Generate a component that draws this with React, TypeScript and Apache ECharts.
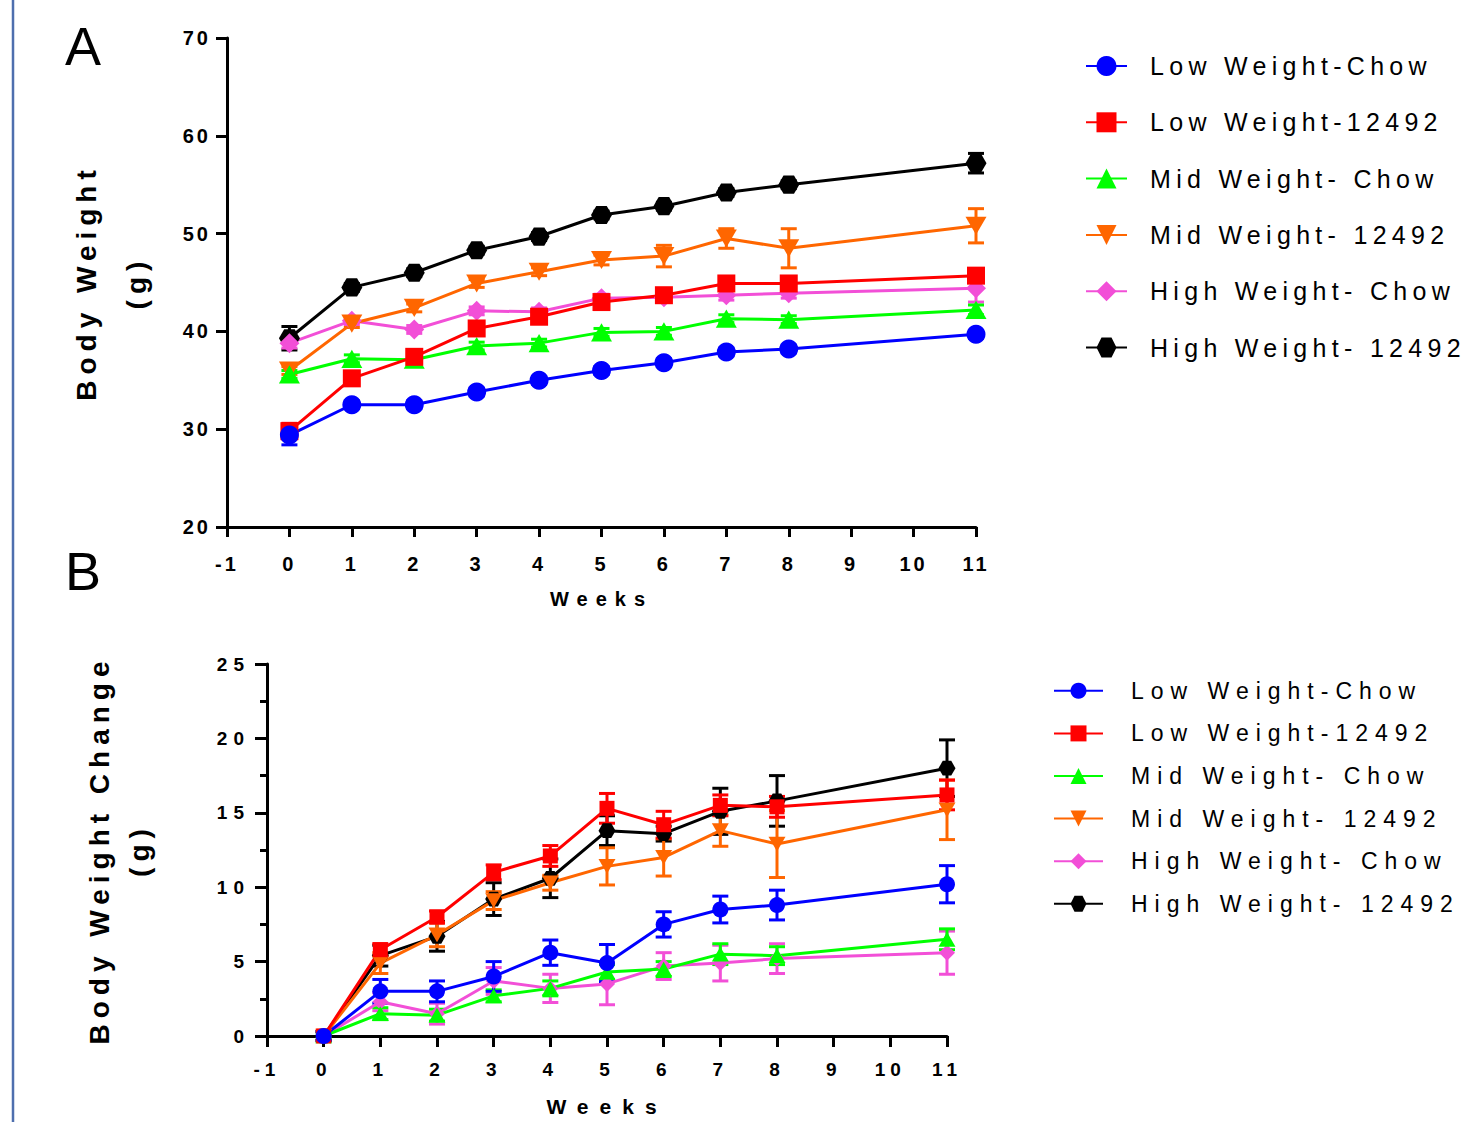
import React, { useEffect, useRef } from 'react';
import * as echarts from 'echarts';

const FONT = '"Liberation Sans", Arial, Helvetica, sans-serif';

// ---- data ----
const WEEKS = [0, 1, 2, 3, 4, 5, 6, 7, 8, 11];
const SERIES_NAMES = [
  'Low Weight-Chow',
  'Low Weight-12492',
  'Mid Weight- Chow',
  'Mid Weight- 12492',
  'High Weight- Chow',
  'High Weight- 12492',
];

// Panel A: body weight (g), mean and SEM
const A_LOW_CHOW = [29.4, 32.5, 32.5, 33.8, 35.0, 36.0, 36.8, 37.9, 38.2, 39.7];
const A_LOW_12492 = [29.8, 35.2, 37.4, 40.3, 41.5, 43.0, 43.7, 44.9, 44.9, 45.7];
const A_MID_CHOW = [35.6, 37.2, 37.1, 38.5, 38.8, 39.9, 40.0, 41.3, 41.2, 42.2];
const A_MID_12492 = [36.0, 40.8, 42.4, 44.9, 46.1, 47.3, 47.7, 49.5, 48.5, 50.8];
const A_HIGH_CHOW = [38.8, 41.1, 40.2, 42.1, 42.0, 43.4, 43.5, 43.7, 43.9, 44.4];
const A_HIGH_12492 = [39.3, 44.5, 46.0, 48.3, 49.7, 51.9, 52.8, 54.2, 55.0, 57.2];

const A_LOW_CHOW_SEM = [1.0, 0.4, 0.4, 0.4, 0.4, 0.4, 0.4, 0.4, 0.4, 0.4];
const A_LOW_12492_SEM = [0.8, 0.5, 0.4, 0.4, 0.4, 0.5, 0.5, 0.5, 0.5, 0.6];
const A_MID_CHOW_SEM = [0.4, 0.4, 0.4, 0.4, 0.4, 0.4, 0.4, 0.4, 0.4, 0.5];
const A_MID_12492_SEM = [0.4, 0.4, 0.4, 0.4, 0.4, 0.5, 1.1, 1.0, 2.0, 1.75];
const A_HIGH_CHOW_SEM = [0.5, 0.4, 0.4, 0.4, 0.4, 0.4, 0.4, 0.5, 0.5, 1.4];
const A_HIGH_12492_SEM = [1.2, 0.4, 0.4, 0.4, 0.4, 0.4, 0.4, 0.4, 0.4, 1.0];

// Panel B: body weight change (g), mean and SEM
const B_LOW_CHOW = [0, 3.0, 3.0, 4.0, 5.6, 4.9, 7.5, 8.5, 8.8, 10.2];
const B_LOW_12492 = [0, 5.8, 8.0, 11.0, 12.1, 15.3, 14.2, 15.5, 15.4, 16.2];
const B_MID_CHOW = [0, 1.5, 1.4, 2.7, 3.2, 4.3, 4.5, 5.5, 5.4, 6.5];
const B_MID_12492 = [0, 4.9, 6.8, 9.1, 10.3, 11.4, 12.0, 13.8, 12.9, 15.2];
const B_HIGH_CHOW = [0, 2.3, 1.5, 3.7, 3.2, 3.5, 4.7, 4.9, 5.2, 5.6];
const B_HIGH_12492 = [0, 5.4, 6.7, 9.2, 10.6, 13.8, 13.6, 15.1, 15.8, 18.0];

const B_LOW_CHOW_SEM = [0.3, 0.8, 0.7, 1.0, 0.85, 1.25, 0.85, 0.9, 1.0, 1.25];
const B_LOW_12492_SEM = [0.3, 0.4, 0.4, 0.5, 0.7, 1.0, 0.9, 0.7, 0.7, 1.0];
const B_MID_CHOW_SEM = [0.2, 0.4, 0.4, 0.4, 0.5, 0.5, 0.5, 0.7, 0.6, 0.7];
const B_MID_12492_SEM = [0.3, 0.7, 0.8, 0.6, 0.5, 1.25, 1.25, 1.05, 2.25, 2.0];
const B_HIGH_CHOW_SEM = [0.2, 0.6, 0.7, 0.9, 0.95, 1.4, 0.9, 1.2, 1.0, 1.45];
const B_HIGH_12492_SEM = [0.3, 0.7, 1.0, 1.1, 1.3, 1.0, 0.5, 1.55, 1.7, 1.9];

const A_MEANS = [A_LOW_CHOW, A_LOW_12492, A_MID_CHOW, A_MID_12492, A_HIGH_CHOW, A_HIGH_12492];
const A_SEMS = [A_LOW_CHOW_SEM, A_LOW_12492_SEM, A_MID_CHOW_SEM, A_MID_12492_SEM, A_HIGH_CHOW_SEM, A_HIGH_12492_SEM];
const B_MEANS = [B_LOW_CHOW, B_LOW_12492, B_MID_CHOW, B_MID_12492, B_HIGH_CHOW, B_HIGH_12492];
const B_SEMS = [B_LOW_CHOW_SEM, B_LOW_12492_SEM, B_MID_CHOW_SEM, B_MID_12492_SEM, B_HIGH_CHOW_SEM, B_HIGH_12492_SEM];

// ---- styles ----
const COLORS = ['#0000FF', '#FF0000', '#00FF00', '#FF6600', '#F24FD7', '#000000'];
const SYMBOLS = [
  'circle',
  'rect',
  'path://M10,0 L20,17.32 L0,17.32 Z',
  'path://M0,0 L20,0 L10,17.32 Z',
  'diamond',
  'path://M0,8.66 L5,0 L15,0 L20,8.66 L15,17.32 L5,17.32 Z',
];
const SIZES_A = [19, 18, 21, 21, 20, 21];
const SIZES_B = [16, 15, 17, 17, 16, 17];

const makeErrRender = (cap: number) => (params: any, api: any) => {
  const x = api.value(0);
  const y = api.value(1);
  const e = api.value(2);
  const top = api.coord([x, y + e]);
  const bot = api.coord([x, y - e]);
  const style = { stroke: api.visual('color'), lineWidth: 3 };
  return {
    type: 'group',
    children: [
      { type: 'line', shape: { x1: top[0], y1: top[1], x2: bot[0], y2: bot[1] }, style },
      { type: 'line', shape: { x1: top[0] - cap, y1: top[1], x2: top[0] + cap, y2: top[1] }, style },
      { type: 'line', shape: { x1: bot[0] - cap, y1: bot[1], x2: bot[0] + cap, y2: bot[1] }, style },
    ],
  };
};

const patchSpacing = (root: HTMLElement) => {
  root.querySelectorAll('text').forEach((t) => {
    const txt = (t.textContent || '').trim();
    if (!txt) return;
    const r = t.getBoundingClientRect();
    const cx = r.left + r.width / 2;
    const cy = r.top + r.height / 2;
    let s = 0;
    if (txt === 'A' || txt === 'B') s = 0;
    else if (txt.indexOf('Weight-') >= 0) s = cy < 620 ? 5.3 : 7;
    else if (txt === 'Weeks') s = cy < 620 ? 8 : 11;
    else if (txt.indexOf('Body') === 0 || txt === '(g)') s = 6;
    else if (/^-?\d+$/.test(txt)) {
      if (cy > 1045) s = 5;
      else if (cy > 640 && cx < 262) s = 6;
      else s = 3;
    }
    if (s) t.setAttribute('letter-spacing', String(s));
  });
};

export default function App() {
  const ref = useRef<HTMLDivElement>(null);

  useEffect(() => {
    if (!ref.current) return;
    const el = ref.current;
    const chart = echarts.init(el, undefined, { renderer: 'svg' });

    const axisLabelA = { color: '#000', fontSize: 20, fontWeight: 'bold', fontFamily: FONT };
    const axisLabelB = { color: '#000', fontSize: 19, fontWeight: 'bold', fontFamily: FONT };
    const axisLine = { onZero: false, lineStyle: { color: '#000', width: 3 } };
    const tickStyle = { color: '#000', width: 3 };

    const lineSeries: any[] = [];
    const errSeries: any[] = [];
    const order = [5, 4, 3, 2, 1, 0]; // earlier groups drawn on top
    [0, 1].forEach((panel) => {
      const means = panel === 0 ? A_MEANS : B_MEANS;
      const sems = panel === 0 ? A_SEMS : B_SEMS;
      const sizes = panel === 0 ? SIZES_A : SIZES_B;
      order.forEach((i) => {
        lineSeries.push({
          type: 'line',
          name: SERIES_NAMES[i],
          xAxisIndex: panel,
          yAxisIndex: panel,
          data: WEEKS.map((w, k) => [w, means[i][k]]),
          symbol: SYMBOLS[i],
          symbolSize: sizes[i],
          symbolKeepAspect: true,
          showAllSymbol: true,
          lineStyle: { color: COLORS[i], width: 3 },
          itemStyle: { color: COLORS[i] },
          z: 3,
          silent: true,
        });
        errSeries.push({
          type: 'custom',
          name: SERIES_NAMES[i] + ' SEM ' + (panel === 0 ? 'A' : 'B'),
          xAxisIndex: panel,
          yAxisIndex: panel,
          data: WEEKS.map((w, k) => [w, means[i][k], sems[i][k]]),
          encode: { x: 0, y: 1 },
          renderItem: makeErrRender(8),
          itemStyle: { color: COLORS[i] },
          z: 2,
          silent: true,
        });
      });
    });

    const option: any = {
      animation: false,
      backgroundColor: '#ffffff',
      textStyle: { fontFamily: FONT },
      grid: [
        { left: 227, top: 38, width: 749, height: 489 },
        { left: 267, top: 664, width: 680, height: 372 },
      ],
      xAxis: [
        {
          gridIndex: 0,
          type: 'value',
          min: -1,
          max: 11,
          interval: 1,
          axisLine,
          axisTick: { length: 10, lineStyle: tickStyle },
          splitLine: { show: false },
          axisLabel: { ...axisLabelA, margin: 27 },
          name: 'Weeks',
          nameLocation: 'middle',
          nameGap: 62,
          nameTextStyle: { color: '#000', fontSize: 20, fontWeight: 'bold', fontFamily: FONT },
        },
        {
          gridIndex: 1,
          type: 'value',
          min: -1,
          max: 11,
          interval: 1,
          axisLine,
          axisTick: { length: 11, lineStyle: tickStyle },
          splitLine: { show: false },
          axisLabel: { ...axisLabelB, margin: 24 },
          name: 'Weeks',
          nameLocation: 'middle',
          nameGap: 60,
          nameTextStyle: { color: '#000', fontSize: 21, fontWeight: 'bold', fontFamily: FONT },
        },
      ],
      yAxis: [
        {
          gridIndex: 0,
          type: 'value',
          min: 20,
          max: 70,
          interval: 10,
          axisLine,
          axisTick: { length: 11, lineStyle: tickStyle },
          splitLine: { show: false },
          axisLabel: { ...axisLabelA, margin: 16 },
          name: 'Body Weight\n(g)',
          nameLocation: 'middle',
          nameRotate: 90,
          nameGap: 65.5,
          nameTextStyle: { color: '#000', fontSize: 28, fontWeight: 'bold', fontFamily: FONT, lineHeight: 50 },
        },
        {
          gridIndex: 1,
          type: 'value',
          min: 0,
          max: 25,
          interval: 5,
          axisLine,
          axisTick: { length: 12, lineStyle: tickStyle },
          minorTick: { show: true, splitNumber: 2, length: 7, lineStyle: tickStyle },
          splitLine: { show: false },
          minorSplitLine: { show: false },
          axisLabel: { ...axisLabelB, margin: 17 },
          name: 'Body Weight Change\n(g)',
          nameLocation: 'middle',
          nameRotate: 90,
          nameGap: 108,
          nameTextStyle: { color: '#000', fontSize: 28, fontWeight: 'bold', fontFamily: FONT, lineHeight: 40 },
        },
      ],
      legend: [
        {
          data: SERIES_NAMES,
          orient: 'vertical',
          left: 1085,
          top: 53.5,
          padding: 0,
          itemWidth: 41,
          itemHeight: 25,
          itemGap: 31.3,
          selectedMode: false,
          textStyle: {
            color: '#000',
            fontSize: 25,
            fontFamily: FONT,
            lineHeight: 17,
            padding: [8, 0, 0, 18],
          },
        },
        {
          data: SERIES_NAMES,
          orient: 'vertical',
          left: 1053,
          top: 679.3,
          padding: 0,
          itemWidth: 49,
          itemHeight: 20,
          itemGap: 19.6,
          selectedMode: false,
          textStyle: {
            color: '#000',
            fontSize: 23,
            fontFamily: FONT,
            lineHeight: 16,
            padding: [4, 0, 0, 23],
          },
        },
      ],
      graphic: [
        {
          type: 'line',
          shape: { x1: 13, y1: 0, x2: 13, y2: 1122 },
          style: { stroke: '#4E6FAE', lineWidth: 2.5 },
          silent: true,
        },
        {
          type: 'text',
          x: 65,
          y: 45.5,
          style: { text: 'A', font: `54px ${FONT}`, fill: '#000', align: 'left', verticalAlign: 'middle' },
          silent: true,
        },
        {
          type: 'text',
          x: 65,
          y: 570.5,
          style: { text: 'B', font: `54px ${FONT}`, fill: '#000', align: 'left', verticalAlign: 'middle' },
          silent: true,
        },
      ],
      series: [...lineSeries, ...errSeries],
    };

    chart.setOption(option);
    patchSpacing(el);
    const onFinished = () => patchSpacing(el);
    chart.on('finished', onFinished);
    const timer = window.setTimeout(() => patchSpacing(el), 50);

    return () => {
      window.clearTimeout(timer);
      chart.off('finished', onFinished);
      chart.dispose();
    };
  }, []);

  return (
    <div
      ref={ref}
      style={{ position: 'absolute', left: 0, top: 0, width: 1471, height: 1122, background: '#fff' }}
    />
  );
}
